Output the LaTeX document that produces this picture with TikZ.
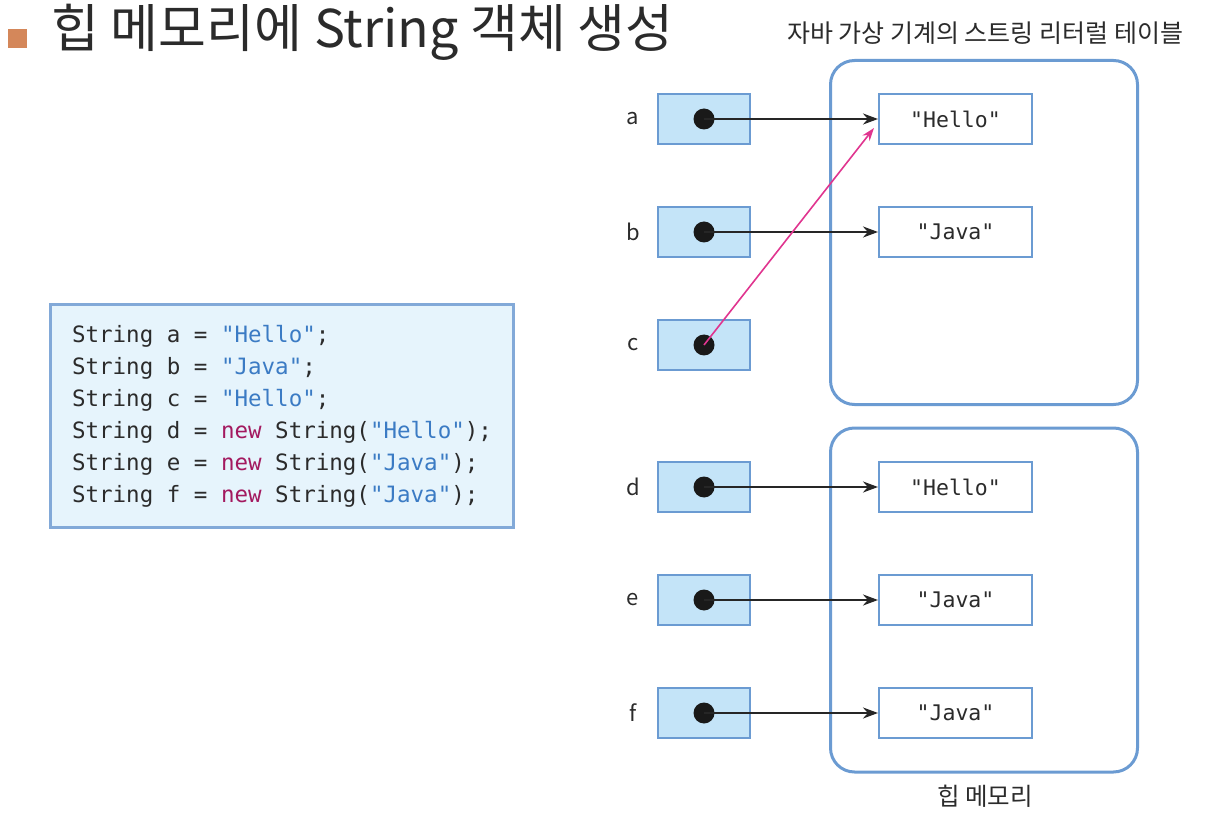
\documentclass[tikz,border=0pt]{standalone}
\usepackage{fontspec}
\setmainfont{Noto Sans CJK KR}
\setmonofont{DejaVu Sans Mono}
\usetikzlibrary{arrows.meta}
\definecolor{boxblue}{HTML}{6B9BD2}
\definecolor{varfill}{HTML}{C4E4F8}
\definecolor{codefill}{HTML}{E6F4FC}
\definecolor{codeline}{HTML}{82A9D8}
\definecolor{strcol}{HTML}{3B7BC4}
\definecolor{kwcol}{HTML}{A3195F}
\definecolor{txtcol}{HTML}{2B2B2B}
\definecolor{bullet}{HTML}{D4875A}
\definecolor{pinkline}{HTML}{E0358F}
\begin{document}
\begin{tikzpicture}[x=1pt,y=-1pt,text=txtcol,
        varbox/.style={draw=boxblue,fill=varfill,line width=2pt,minimum width=92pt,minimum height=50pt},
        strbox/.style={draw=boxblue,fill=white,line width=2pt,minimum width=153pt,minimum height=50pt,
            font=\fontsize{21.5}{26}\selectfont\ttfamily},
        dot/.style={circle,fill=black!90,inner sep=0pt,minimum size=21pt},
        area/.style={draw=boxblue,line width=3pt,rounded corners=24pt,minimum width=307pt,minimum height=344pt},
        varname/.style={font=\fontsize{22}{26}\selectfont},
        ptr/.style={-{Stealth[length=15pt,width=11pt]},line width=2.2pt,black!85}]
    \useasboundingbox (0,0) rectangle (1216,834);
    % title
    \fill[bullet] (8,29) rectangle (27,48);
    \node[anchor=west,font=\fontsize{52}{58}\selectfont] (title) at (48,32) {힙 메모리에 String 객체 생성};
    % string pool and heap
    \node[area] (pool) at (984,232.5) {};
    \node[area] (heap) at (984,600) {};
    \node[font=\fontsize{25}{28}\selectfont] (pooltxt) at (985,33) {자바 가상 기계의 스트링 리터럴 테이블};
    \node[font=\fontsize{24.5}{28}\selectfont] (heaptxt) at (985,796) {힙 메모리};
    % code
    \node[draw=codeline,fill=codefill,line width=2.2pt,minimum width=463pt,minimum height=223pt,
        align=left,font=\fontsize{22.5}{32}\selectfont\ttfamily] (code) at (282,416) {%
        String a = \textcolor{strcol}{"Hello"};\\
        String b = \textcolor{strcol}{"Java"};\\
        String c = \textcolor{strcol}{"Hello"};\\
        String d = \textcolor{kwcol}{new} String(\textcolor{strcol}{"Hello"});\\
        String e = \textcolor{kwcol}{new} String(\textcolor{strcol}{"Java"});\\
        String f = \textcolor{kwcol}{new} String(\textcolor{strcol}{"Java"});};
    % references
    \foreach \v/\y in {a/119,b/232,c/345,d/487,e/600,f/713} {
            \node[varbox] (v\v) at (704,\y) {};
            \node[dot] (p\v) at (v\v.center) {};
            \node[varname] (n\v) at (633,\y) {\v};
        }
    \node[strbox] (sa) at (955.5,119) {"Hello"};
    \node[strbox] (sb) at (955.5,232) {"Java"};
    \node[strbox] (sd) at (955.5,487) {"Hello"};
    \node[strbox] (se) at (955.5,600) {"Java"};
    \node[strbox] (sf) at (955.5,713) {"Java"};
    \foreach \v in {a,b,d,e,f} {
            \draw[ptr] (p\v.center) -- (s\v.west);
        }
    \draw[-{Stealth[length=13pt,width=9pt]},line width=1.6pt,pinkline] (pc.center) -- ([xshift=-4pt,yshift=-9pt]sa.west);
\end{tikzpicture}
\end{document}
